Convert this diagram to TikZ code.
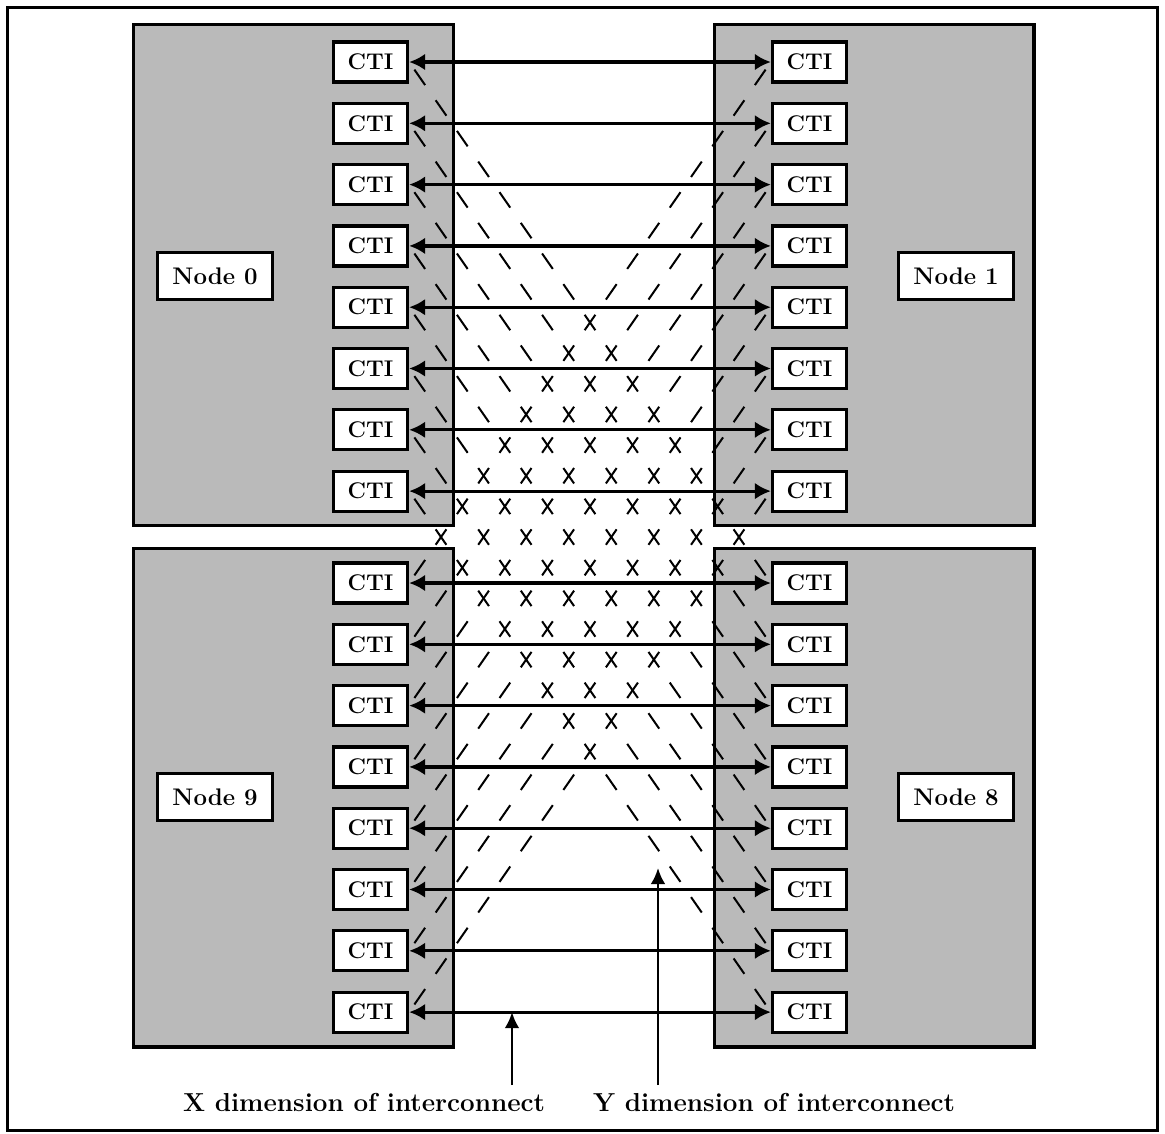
\documentclass[tikz,border=0pt]{standalone}
\usetikzlibrary{arrows.meta,calc}
\definecolor{nodegray}{gray}{0.73}
\begin{document}
\begin{tikzpicture}[x=0.75pt,y=-0.75pt,
  frame/.style={draw,line width=2.25pt},
  nodebox/.style={draw,line width=2.4pt,fill=nodegray},
  cti/.style={draw,fill=white,line width=2.4pt,minimum width=55.5pt,minimum height=30pt,inner sep=0pt,font=\fontsize{17}{19}\selectfont\bfseries},
  nlabel/.style={draw,fill=white,line width=2.4pt,minimum width=86pt,minimum height=35pt,inner sep=0pt,font=\fontsize{18}{20}\selectfont\bfseries},
  lbl/.style={inner sep=0pt,anchor=base,font=\fontsize{19.5}{21}\selectfont\bfseries},
  harrow/.style={line width=2.4pt,{Latex[length=12pt,width=12.5pt]}-{Latex[length=12pt,width=12.5pt]}},
  varrow/.style={line width=1.9pt,-{Latex[length=12pt,width=11pt]}},
  dsh/.style={line width=1.5pt}]
\useasboundingbox (0,0) rectangle (1165,1133);
\draw[frame] (7.5,7.5) rectangle (1157.5,1130.5);
% node areas
\draw[nodebox] (133.5,24.5) rectangle (453.5,525.5);
\draw[nodebox] (133.5,548.5) rectangle (453.5,1047);
\draw[nodebox] (714.5,24.5) rectangle (1034,525.5);
\draw[nodebox] (714.5,548.5) rectangle (1034,1047);
% node labels
\node[nlabel] (n0) at (215,276) {Node 0};
\node[nlabel] (n1) at (956,276) {Node 1};
\node[nlabel] (n9) at (215,797) {Node 9};
\node[nlabel] (n8) at (956,797) {Node 8};
% CTI boxes
\foreach \i in {1,...,8} {
  \pgfmathsetmacro\yt{62+61.3*(\i-1)}
  \pgfmathsetmacro\yb{\yt+521}
  \node[cti] (a\i) at (370.5,\yt) {CTI};
  \node[cti] (b\i) at (809.5,\yt) {CTI};
  \node[cti] (c\i) at (370.5,\yb) {CTI};
  \node[cti] (d\i) at (809.5,\yb) {CTI};
}
% Y dimension (dashed diagonals)
\foreach \i in {1,...,8} {
  \foreach \k in {0,...,16} {
    \pgfmathsetmacro\tA{(0.25+0.5*\k)/8.5-0.0148}
    \pgfmathsetmacro\tB{(0.25+0.5*\k)/8.5+0.0148}
    \draw[dsh] ($(a\i.east)!\tA!(d\i.west)$) -- ($(a\i.east)!\tB!(d\i.west)$);
    \draw[dsh] ($(b\i.west)!\tA!(c\i.east)$) -- ($(b\i.west)!\tB!(c\i.east)$);
  }
}
% label arrows
\coordinate (xs) at (512,1085);
\coordinate (ys) at (658,1085);
\coordinate (yt) at (658,868);
\draw[varrow] (xs) -- (xs |- c8.east);
\draw[varrow] (ys) -- (yt);
% X dimension (horizontal)
\foreach \i in {1,...,8} {
  \draw[harrow] (a\i.east) -- (b\i.west);
  \draw[harrow] (c\i.east) -- (d\i.west);
}
% labels
\node[lbl] (xl) at (364,1111) {X dimension of interconnect};
\node[lbl] (yl) at (774,1111) {Y dimension of interconnect};
\end{tikzpicture}
\end{document}
